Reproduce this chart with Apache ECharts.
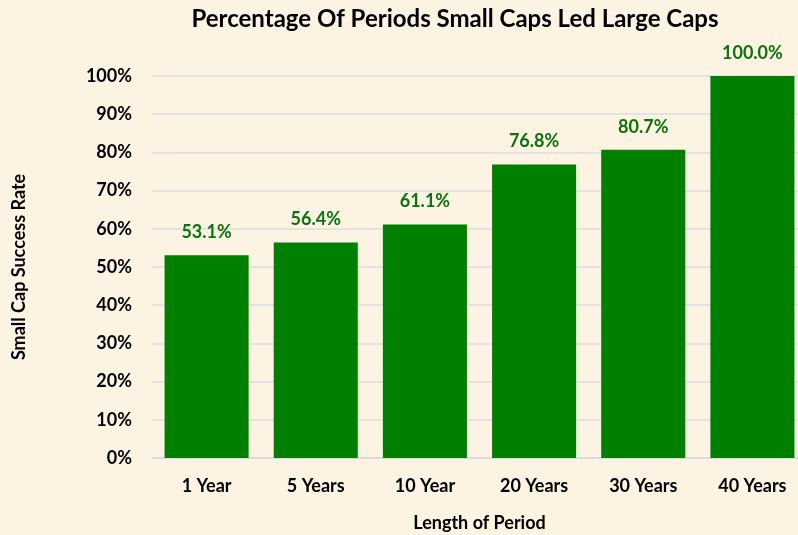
<!DOCTYPE html>
<html><head><meta charset="utf-8">
<script src="https://cdn.jsdelivr.net/npm/echarts@6/dist/echarts.min.js"></script>
<style>html,body{margin:0;padding:0;background:#fcf3e2;}#c{width:798px;height:535px;}</style>
</head><body><div id="c"></div>
<script>
const categories = ['1 Year', '5 Years', '10 Year', '20 Years', '30 Years', '40 Years'];
const successRate = [53.1, 56.4, 61.1, 76.8, 80.7, 100.0];
const yTicks = [0, 10, 20, 30, 40, 50, 60, 70, 80, 90, 100];

const font = 'Lato, "Open Sans", sans-serif';
const chart = echarts.init(document.getElementById('c'));
chart.setOption({
  backgroundColor: '#fcf3e2',
  animation: false,
  title: {
    text: 'Percentage Of Periods Small Caps Led Large Caps',
    left: 450, top: 2, textAlign: 'center',
    textStyle: { fontFamily: font, fontWeight: 'bold', fontSize: 24, color: '#000' }
  },
  grid: { left: 152, top: 76, width: 655, height: 382, outerBoundsMode: 'none', containLabel: false },
  xAxis: {
    type: 'category',
    data: categories,
    name: 'Length of Period',
    nameLocation: 'middle',
    nameGap: 56,
    nameTextStyle: { fontFamily: font, fontWeight: 'bold', fontSize: 18, color: '#000' },
    axisLine: { lineStyle: { color: '#d9d9d9', width: 1.5 } },
    axisTick: { show: false },
    axisLabel: { fontFamily: font, fontWeight: 'bold', fontSize: 18, color: '#000', margin: 19 }
  },
  yAxis: {
    type: 'value',
    min: 0, max: 100, interval: 10,
    name: 'Small Cap Success Rate',
    nameLocation: 'middle',
    nameGap: 124,
    nameTextStyle: { fontFamily: font, fontWeight: 'bold', fontSize: 18, color: '#000' },
    axisLine: { show: false },
    axisTick: { show: false },
    splitLine: { lineStyle: { color: '#dcdde3', width: 1.5 } },
    axisLabel: {
      fontFamily: font, fontWeight: 'bold', fontSize: 18, color: '#000', margin: 20,
      formatter: v => yTicks.includes(v) ? v + '%' : ''
    }
  },
  series: [{
    type: 'bar',
    data: successRate,
    barCategoryGap: '23%',
    itemStyle: { color: '#008000' },
    label: {
      show: true, position: 'top', distance: 14,
      fontFamily: font, fontWeight: 'bold', fontSize: 18, color: '#0b730b',
      formatter: p => p.value.toFixed(1) + '%'
    }
  }]
});
</script></body></html>
